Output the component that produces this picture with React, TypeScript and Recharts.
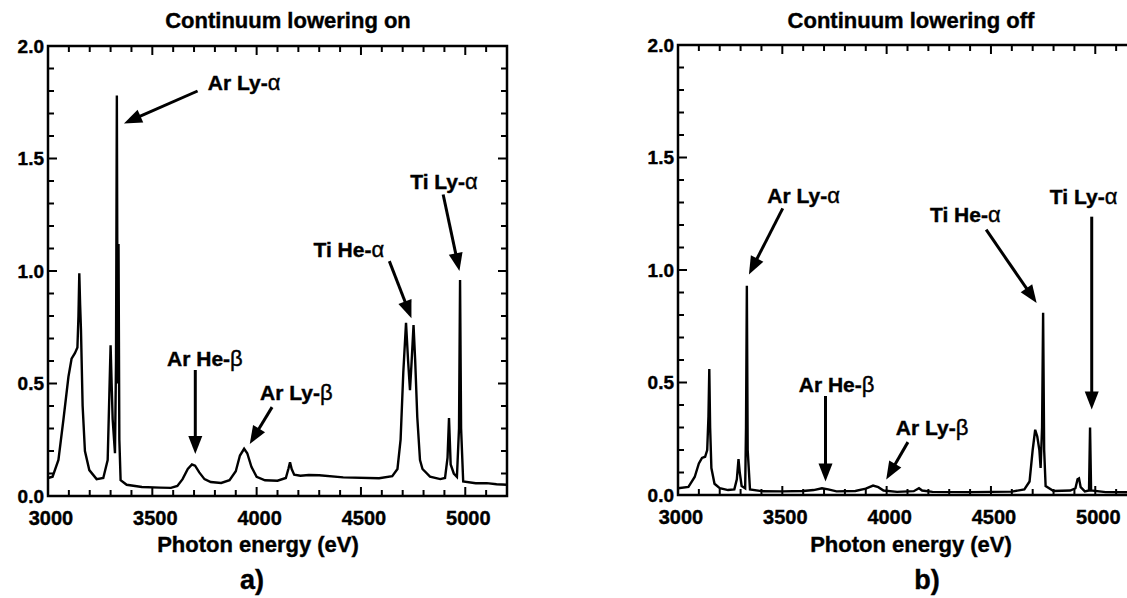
import { LineChart, Line, XAxis, YAxis, ReferenceLine, ReferenceDot, ReferenceArea } from 'recharts';

// spectrum a) continuum lowering on
const energyA = [
  3000, 3022, 3050, 3074, 3098, 3113, 3129, 3141, 3146, 3150, 3154, 3158, 3166, 3177, 3198, 3233, 3265, 3286,
  3294, 3300, 3305, 3310, 3321, 3326, 3330, 3334, 3338, 3342, 3348, 3377, 3450, 3537, 3589, 3620, 3645, 3670,
  3690, 3705, 3725, 3750, 3780, 3830, 3870, 3900, 3920, 3940, 3955, 3975, 4000, 4040, 4100, 4140, 4152, 4160,
  4168, 4180, 4210, 4250, 4300, 4415, 4587, 4650, 4675, 4690, 4703, 4716, 4726, 4735, 4743, 4752, 4760, 4770,
  4783, 4795, 4831, 4880, 4903, 4915, 4922, 4930, 4945, 4960, 4970, 4975, 4980, 4990, 5050, 5103, 5150, 5200,
];
const intensityA = [
  0.08, 0.086, 0.16, 0.34, 0.53, 0.61, 0.635, 0.66, 0.8, 0.99, 0.85, 0.74, 0.4, 0.2, 0.115, 0.075, 0.08, 0.16,
  0.45, 0.67, 0.5, 0.34, 0.19, 0.6, 1.78, 0.5, 1.12, 0.25, 0.07, 0.05, 0.04, 0.037, 0.036, 0.045, 0.075, 0.12,
  0.14, 0.135, 0.105, 0.075, 0.062, 0.058, 0.07, 0.11, 0.18, 0.21, 0.19, 0.13, 0.085, 0.07, 0.068, 0.08, 0.12, 0.15,
  0.12, 0.095, 0.09, 0.093, 0.092, 0.083, 0.079, 0.088, 0.12, 0.25, 0.55, 0.77, 0.6, 0.47, 0.6, 0.76, 0.6, 0.35,
  0.16, 0.12, 0.086, 0.075, 0.08, 0.17, 0.346, 0.14, 0.1, 0.085, 0.3, 0.96, 0.3, 0.065, 0.057, 0.057, 0.052, 0.05,
];

// spectrum b) continuum lowering off
const energyB = [
  3000, 3050, 3080, 3100, 3115, 3130, 3140, 3146, 3150, 3154, 3160, 3175, 3200, 3240, 3270, 3282, 3290, 3296,
  3305, 3322, 3326, 3330, 3334, 3345, 3400, 3500, 3600, 3650, 3690, 3720, 3760, 3850, 3900, 3935, 3960, 3985,
  4050, 4130, 4155, 4170, 4220, 4400, 4600, 4660, 4685, 4700, 4712, 4722, 4732, 4738, 4745, 4750, 4755, 4762,
  4800, 4880, 4905, 4915, 4922, 4930, 4950, 4970, 4975, 4980, 5050, 5200,
];
const intensityB = [
  0.03, 0.036, 0.08, 0.14, 0.165, 0.17, 0.2, 0.35, 0.56, 0.3, 0.12, 0.05, 0.03, 0.022, 0.025, 0.07, 0.16, 0.1,
  0.04, 0.03, 0.3, 0.93, 0.2, 0.025, 0.017, 0.016, 0.018, 0.022, 0.03, 0.025, 0.016, 0.018, 0.028, 0.042, 0.035, 0.02,
  0.014, 0.017, 0.03, 0.02, 0.014, 0.013, 0.015, 0.025, 0.06, 0.2, 0.29, 0.26, 0.2, 0.12, 0.3, 0.81, 0.2, 0.04,
  0.018, 0.02, 0.03, 0.07, 0.074, 0.035, 0.016, 0.02, 0.3, 0.02, 0.013, 0.012,
];

const xTicks = [3000, 3100, 3200, 3300, 3400, 3500, 3600, 3700, 3800, 3900, 4000, 4100, 4200, 4300, 4400, 4500, 4600, 4700, 4800, 4900, 5000, 5100, 5200];
const yTicks = [0, 0.1, 0.2, 0.3, 0.4, 0.5, 0.6, 0.7, 0.8, 0.9, 1.0, 1.1, 1.2, 1.3, 1.4, 1.5, 1.6, 1.7, 1.8, 1.9, 2.0];

const notesA = [
  { label: 'Ar Ly-α', at: [3940, 1.837], tail: [3717, 1.8], head: [3364, 1.656] },
  { label: 'Ar He-β', at: [3752, 0.61], tail: [3706, 0.56], head: [3706, 0.187] },
  { label: 'Ar Ly-β', at: [4190, 0.46], tail: [4074, 0.395], head: [3967, 0.231] },
  { label: 'Ti He-α', at: [4442, 1.096], tail: [4636, 1.044], head: [4742, 0.79] },
  { label: 'Ti Ly-α', at: [4898, 1.4], tail: [4894, 1.34], head: [4972, 1.0] },
];
const notesB = [
  { label: 'Ar Ly-α', at: [3602, 1.333], tail: [3502, 1.274], head: [3340, 0.98] },
  { label: 'Ar He-β', at: [3760, 0.49], tail: [3707, 0.44], head: [3707, 0.06] },
  { label: 'Ar Ly-β', at: [4218, 0.3], tail: [4102, 0.235], head: [3998, 0.069] },
  { label: 'Ti He-α', at: [4377, 1.245], tail: [4477, 1.179], head: [4719, 0.853] },
  { label: 'Ti Ly-α', at: [4944, 1.326], tail: [4983, 1.237], head: [4983, 0.38] },
];

const FONT = '"Liberation Sans", Arial, Helvetica, sans-serif';
const PLOT_W = 459;
const PLOT_H = 450;

function XTick(props: any) {
  const { x, y, payload } = props;
  const v = payload.value;
  const major = v % 500 === 0;
  const len = major ? 9 : 6;
  return (
    <g>
      <line x1={x} y1={y} x2={x} y2={y - len} stroke="#000" strokeWidth={2} />
      <line x1={x} y1={y - PLOT_H} x2={x} y2={y - PLOT_H + len} stroke="#000" strokeWidth={2} />
      {major && (
        <text x={x + 3} y={y + 29} textAnchor="middle" fontFamily={FONT} fontWeight="bold" fontSize={20} fill="#000" stroke="#000" strokeWidth={0.4}>
          {v}
        </text>
      )}
    </g>
  );
}

function YTick(props: any) {
  const { x, y, payload } = props;
  const v = payload.value;
  const major = Math.round(v * 10) % 5 === 0;
  const len = major ? 9 : 6;
  return (
    <g>
      <line x1={x} y1={y} x2={x + len} y2={y} stroke="#000" strokeWidth={2} />
      <line x1={x + PLOT_W} y1={y} x2={x + PLOT_W - len} y2={y} stroke="#000" strokeWidth={2} />
      {major && (
        <text x={x - 4} y={y} dy="0.36em" textAnchor="end" fontFamily={FONT} fontWeight="bold" fontSize={19} fill="#000" stroke="#000" strokeWidth={0.4}>
          {v.toFixed(1)}
        </text>
      )}
    </g>
  );
}

function Arrow(props: any) {
  const { x1, y1, x2, y2 } = props;
  const dx = x2 - x1;
  const dy = y2 - y1;
  const d = Math.sqrt(dx * dx + dy * dy) || 1;
  const ux = dx / d;
  const uy = dy / d;
  const hl = 18;
  const hw = 7;
  const bx = x2 - ux * hl;
  const by = y2 - uy * hl;
  return (
    <g>
      <line x1={x1} y1={y1} x2={bx + ux * 2} y2={by + uy * 2} stroke="#000" strokeWidth={3} />
      <polygon
        points={`${x2},${y2} ${bx - uy * hw},${by + ux * hw} ${bx + uy * hw},${by - ux * hw}`}
        fill="#000"
      />
    </g>
  );
}

function Panel({ energy, intensity, notes }: { energy: number[]; intensity: number[]; notes: any[] }) {
  const data = energy.map((e, i) => ({ e, v: intensity[i] }));
  return (
    <LineChart width={560} height={598} data={data} margin={{ top: 46, right: 53, bottom: 72, left: 8 }}>
      <XAxis
        dataKey="e"
        type="number"
        domain={[3000, 5200]}
        ticks={xTicks}
        interval={0}
        height={30}
        tickSize={0}
        tickMargin={0}
        tickLine={false}
        axisLine={false}
        tick={<XTick />}
      />
      <YAxis
        type="number"
        domain={[0, 2]}
        ticks={yTicks}
        interval={0}
        width={40}
        tickSize={0}
        tickMargin={0}
        tickLine={false}
        axisLine={false}
        tick={<YTick />}
      />
      <Line type="linear" dataKey="v" stroke="#000" strokeWidth={2.4} dot={false} isAnimationActive={false} />
      <ReferenceArea x1={3000} x2={5200} y1={0} y2={2} fill="none" stroke="#000" strokeWidth={2.5} fillOpacity={0} />
      {notes.map((n) => (
        <ReferenceLine
          key={n.label + 'arrow'}
          segment={[
            { x: n.tail[0], y: n.tail[1] },
            { x: n.head[0], y: n.head[1] },
          ]}
          shape={(p: any) => <Arrow {...p} />}
        />
      ))}
      {notes.map((n) => (
        <ReferenceDot
          key={n.label + 'text'}
          x={n.at[0]}
          y={n.at[1]}
          r={0}
          shape={(p: any) => (
            <text x={p.cx} y={p.cy} dy="0.36em" textAnchor="middle" fontFamily={FONT} fontWeight="bold" fontSize={21} fill="#000" stroke="#000" strokeWidth={0.4}>
              {n.label.slice(0, -1)}
              <tspan fontWeight="normal" fontSize={22}>{n.label.slice(-1)}</tspan>
            </text>
          )}
        />
      ))}
    </LineChart>
  );
}

export default function App() {
  const txt = { fontFamily: FONT, fontWeight: 'bold' as const, fill: '#000', stroke: '#000', strokeWidth: 0.4 };
  return (
    <div style={{ position: 'fixed', left: 0, top: 0, width: 1127, height: 598, overflow: 'hidden', background: '#fff' }}>
      <div style={{ position: 'absolute', left: 0, top: 0 }}>
        <Panel energy={energyA} intensity={intensityA} notes={notesA} />
      </div>
      <div style={{ position: 'absolute', left: 630, top: -1 }}>
        <Panel energy={energyB} intensity={intensityB} notes={notesB} />
      </div>
      <svg width={1127} height={598} style={{ position: 'absolute', left: 0, top: 0, pointerEvents: 'none' }}>
        <text x={288} y={28} textAnchor="middle" fontSize={22} {...txt}>Continuum lowering on</text>
        <text x={911} y={28} textAnchor="middle" fontSize={22} {...txt}>Continuum lowering off</text>
        <text x={258} y={552} textAnchor="middle" fontSize={22} {...txt}>Photon energy (eV)</text>
        <text x={911} y={552} textAnchor="middle" fontSize={22} {...txt}>Photon energy (eV)</text>
        <text x={252} y={589} textAnchor="middle" fontSize={27} {...txt}>a)</text>
        <text x={927} y={589} textAnchor="middle" fontSize={27} {...txt}>b)</text>
      </svg>
    </div>
  );
}
